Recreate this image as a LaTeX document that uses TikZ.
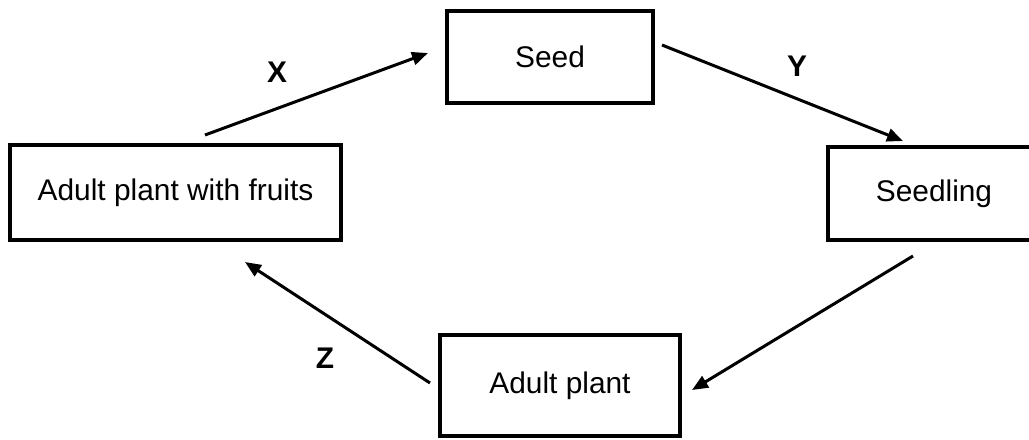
\documentclass[tikz,border=0pt]{standalone}
\usepackage{fontspec}
\setmainfont{Liberation Sans}
\usetikzlibrary{arrows.meta}

\begin{document}
\begin{tikzpicture}[
		x=0.02cm, y=-0.02cm,
		every node/.style={
			font=\fontsize{17}{20}\selectfont
		},
		stage/.style 2 args={draw, line width=0.08cm, minimum width=#1, minimum height=#2, inner sep=0pt},
		cycarrow/.style={-{Triangle[length=0.32cm,width=0.26cm]}, line width=0.06cm},
		steplabel/.style={font=\fontsize{17}{20}\selectfont\bfseries}
	]

	\useasboundingbox (0,0) rectangle (1029,440);
	\clip (0,0) rectangle (1029,440);

	% the four stages
	\node[stage={4.12cm}{1.84cm}] (seed) at (550,57) {Seed};
	\node[stage={4.64cm}{1.86cm}] (seedling) at (944,193.5) {\hspace*{-0.4cm}Seedling};
	\node[stage={4.8cm}{2.02cm}] (adult) at (560,385.5) {Adult plant};
	\node[stage={6.62cm}{1.9cm}] (fruits) at (175.5,192.5) {Adult plant with fruits};

	% free ends of the arrows
	\coordinate (x1) at (205,135);
	\coordinate (x2) at (428,53);
	\coordinate (y1) at (662,45);
	\coordinate (y2) at (903,141);
	\coordinate (a1) at (913,256);
	\coordinate (a2) at (692,390);
	\coordinate (z1) at (430,383);
	\coordinate (z2) at (245,262);

	\draw[cycarrow] (x1) -- (x2);
	\draw[cycarrow] (y1) -- (y2);
	\draw[cycarrow] (a1) -- (a2);
	\draw[cycarrow] (z1) -- (z2);

	\node[steplabel] (xl) at (277,72) {X};
	\node[steplabel] (yl) at (797,66) {Y};
	\node[steplabel] (zl) at (325,358) {Z};

\end{tikzpicture}
\end{document}
